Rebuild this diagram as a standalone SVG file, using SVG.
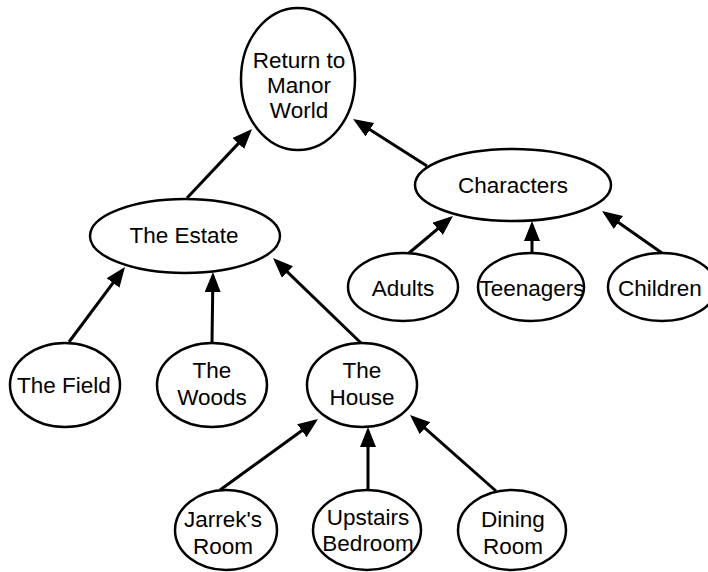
<svg xmlns="http://www.w3.org/2000/svg" width="708" height="572" viewBox="0 0 708 572">
  <style>
    .node ellipse { fill: #ffffff; stroke: #000000; stroke-width: 2.5; }
    .node text { font-family: "Liberation Sans", Arial, sans-serif; font-size: 22.5px; fill: #000000; text-anchor: middle; }
    .edge line { stroke: #000000; stroke-width: 3; marker-end: url(#arrow); }
  </style>
  <defs>
    <marker id="arrow" markerUnits="userSpaceOnUse" markerWidth="22" markerHeight="18" refX="16" refY="8" orient="auto">
      <path d="M0,0 L20,8 L0,16 Z" fill="#000000"/>
    </marker>
  </defs>
  <rect width="708" height="572" fill="#ffffff"/>

  <!-- connectors: child to parent -->
  <g id="connectors" class="edge">
    <line x1="187" y1="198" x2="249.3" y2="131.9"/>
    <line x1="427" y1="166" x2="356.4" y2="121.1"/>
    <line x1="69" y1="342" x2="122.6" y2="270.2"/>
    <line x1="212" y1="343" x2="212.9" y2="276"/>
    <line x1="361" y1="343" x2="275.9" y2="260.8"/>
    <line x1="409" y1="253" x2="449.9" y2="218.6"/>
    <line x1="532" y1="253" x2="532" y2="225"/>
    <line x1="662" y1="253" x2="605.3" y2="213.3"/>
    <line x1="220" y1="490" x2="314.8" y2="421.3"/>
    <line x1="368" y1="491" x2="368" y2="431"/>
    <line x1="496" y1="491" x2="413" y2="417.6"/>
  </g>

  <g id="root" class="node">
    <ellipse cx="298" cy="79" rx="57" ry="71"/>
    <text x="299" y="68">Return to</text>
    <text x="299" y="93">Manor</text>
    <text x="299" y="118">World</text>
  </g>

  <g id="characters" class="node">
    <ellipse cx="513" cy="185" rx="98" ry="36"/>
    <text x="513" y="193">Characters</text>
  </g>

  <g id="estate" class="node">
    <ellipse cx="185" cy="236" rx="95" ry="37"/>
    <text x="184" y="243">The Estate</text>
  </g>

  <g id="adults" class="node">
    <ellipse cx="403" cy="287" rx="55" ry="34"/>
    <text x="403" y="296">Adults</text>
  </g>

  <g id="teenagers" class="node">
    <ellipse cx="531" cy="287" rx="53" ry="34"/>
    <text x="532" y="296">Teenagers</text>
  </g>

  <g id="children" class="node">
    <ellipse cx="662" cy="287" rx="54" ry="34"/>
    <text x="660" y="296">Children</text>
  </g>

  <g id="field" class="node">
    <ellipse cx="65" cy="385" rx="55" ry="42"/>
    <text x="64" y="393">The Field</text>
  </g>

  <g id="woods" class="node">
    <ellipse cx="212" cy="385" rx="55" ry="42"/>
    <text x="212" y="378">The</text>
    <text x="212" y="405">Woods</text>
  </g>

  <g id="house" class="node">
    <ellipse cx="362" cy="385" rx="55" ry="42"/>
    <text x="362" y="378">The</text>
    <text x="362" y="405">House</text>
  </g>

  <g id="jarrek" class="node">
    <ellipse cx="226" cy="530" rx="51" ry="40"/>
    <text x="223" y="527">Jarrek's</text>
    <text x="223" y="554">Room</text>
  </g>

  <g id="upstairs" class="node">
    <ellipse cx="367" cy="530" rx="54" ry="40"/>
    <text x="368" y="525">Upstairs</text>
    <text x="368" y="551">Bedroom</text>
  </g>

  <g id="dining" class="node">
    <ellipse cx="512" cy="530" rx="54" ry="40"/>
    <text x="513" y="527">Dining</text>
    <text x="513" y="554">Room</text>
  </g>
</svg>
